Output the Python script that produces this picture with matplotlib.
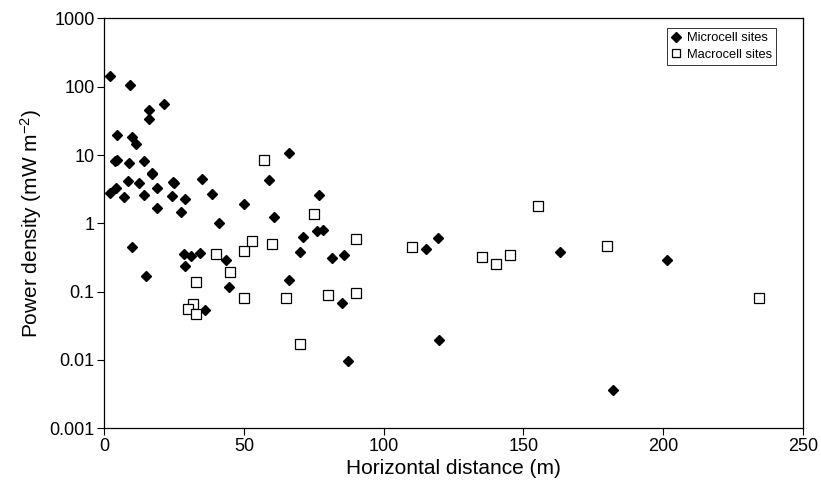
"""Power density vs horizontal distance for microcell and macrocell sites."""

import matplotlib

matplotlib.use("Agg")
import matplotlib.pyplot as plt
from matplotlib.ticker import FixedLocator, FixedFormatter

# Microcell sites: horizontal distance (m) and power density (mW m^-2)
micro_x = [
    2.2, 9.1, 21.2, 16.0, 16.0, 4.5, 10.0, 11.4, 3.8, 4.6,
    8.9, 14.2, 17.0, 17.1, 34.9, 58.9, 24.6, 24.9, 8.5, 12.5,
    4.1, 2.0, 18.7, 7.0, 14.1, 24.2, 28.9, 38.7, 18.9, 27.3,
    50.1, 41.1, 60.6, 10.0, 15.1, 28.5, 31.2, 34.1, 28.8, 43.4,
    44.8, 36.2, 66.2, 76.9, 71.0, 76.0, 78.1, 70.0, 81.6, 85.7,
    115.1, 66.1, 85.0, 119.3, 163.0, 119.8, 182.1, 201.5, 87.2,
]
micro_y = [
    143, 106, 55, 46, 34, 19.8, 18.5, 14.3, 8.3, 8.6,
    7.6, 8.2, 5.5, 5.2, 4.45, 4.3, 4.07, 3.85, 4.1, 3.85,
    3.25, 2.8, 3.25, 2.4, 2.6, 2.5, 2.27, 2.7, 1.69, 1.45,
    1.92, 1.01, 1.24, 0.455, 0.171, 0.355, 0.332, 0.364, 0.237, 0.287,
    0.116, 0.054, 10.6, 2.6, 0.63, 0.76, 0.80, 0.38, 0.307, 0.34,
    0.42, 0.148, 0.069, 0.61, 0.38, 0.0194, 0.00366, 0.293, 0.0096,
]

# Macrocell sites
macro_x = [
    57.0, 39.9, 49.9, 52.9, 59.9, 44.9, 32.9, 49.9, 31.9, 29.9,
    32.9, 75.0, 89.9, 110.0, 65.0, 79.9, 89.9, 155.1, 135.0, 140.1,
    145.1, 180.0, 234.1, 70.0,
]
macro_y = [
    8.4, 0.355, 0.389, 0.545, 0.50, 0.196, 0.137, 0.080, 0.0666, 0.056,
    0.0475, 1.38, 0.595, 0.455, 0.0815, 0.090, 0.094, 1.81, 0.318, 0.251,
    0.347, 0.47, 0.0806, 0.0169,
]

y_ticks = [0.001, 0.01, 0.1, 1, 10, 100, 1000]
y_tick_labels = ["0.001", "0.01", "0.1", "1", "10", "100", "1000"]
x_ticks = [0, 50, 100, 150, 200, 250]

plt.rcParams["font.family"] = ["Liberation Sans", "DejaVu Sans"]
plt.rcParams["mathtext.default"] = "regular"

fig = plt.figure(figsize=(8.21, 4.86), dpi=100)
ax = fig.add_axes([0.127, 0.119, 0.851, 0.843])

ax.plot(
    micro_x, micro_y, linestyle="none", marker="D", markersize=5.5,
    color="black", label="Microcell sites",
)
ax.plot(
    macro_x, macro_y, linestyle="none", marker="s", markersize=6.5,
    markerfacecolor="white", markeredgecolor="black", markeredgewidth=0.9,
    label="Macrocell sites",
)

ax.set_yscale("log")
ax.set_xlim(0, 250)
ax.set_ylim(0.001, 1000)
ax.xaxis.set_major_locator(FixedLocator(x_ticks))
ax.yaxis.set_major_locator(FixedLocator(y_ticks))
ax.yaxis.set_major_formatter(FixedFormatter(y_tick_labels))
ax.yaxis.set_minor_locator(FixedLocator([]))
ax.tick_params(axis="both", which="major", direction="out", length=5,
               width=0.8, labelsize=13, pad=2, color="black")

ax.set_xlabel("Horizontal distance (m)", fontsize=15, labelpad=3)
ax.set_ylabel("Power density (mW m$^{-2}$)", fontsize=15, labelpad=4)

for spine in ax.spines.values():
    spine.set_linewidth(0.9)
    spine.set_color("black")

legend = ax.legend(
    loc="upper right", bbox_to_anchor=(0.961, 0.976), borderaxespad=0,
    fontsize=9.3, frameon=True, fancybox=False, handletextpad=0.45,
    handlelength=0.8, borderpad=0.3, labelspacing=0.35, markerscale=0.85,
)
legend.get_frame().set_edgecolor("black")
legend.get_frame().set_linewidth(0.7)

fig.savefig("out.png", dpi=100)
